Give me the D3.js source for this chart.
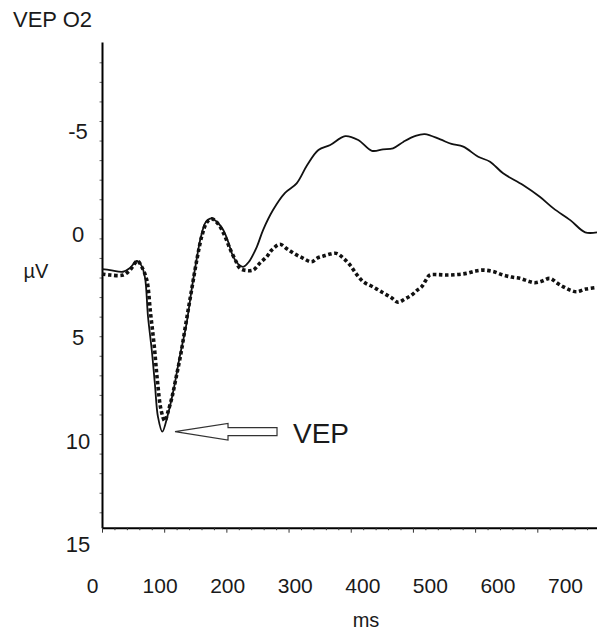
<!DOCTYPE html>
<html>
<head>
<meta charset="utf-8">
<script src="https://cdn.jsdelivr.net/npm/d3@7"></script>
<style>
  body { margin: 0; background: #fff; }
  text { font-family: Arial, "Liberation Sans", sans-serif; fill: #1a1a1a; }
</style>
</head>
<body>
<div id="chart"></div>
<script>
// solid trace (ms, µV; negative is drawn upward)
var solidMs = [0, 13, 34, 45, 56, 63, 69, 74, 80, 85, 90, 97, 105, 115, 125, 136, 144, 152, 159, 167, 176, 185, 195, 203, 211, 219, 227, 236, 249, 259, 275, 294, 313, 330, 348, 367, 391, 412, 434, 452, 468, 485, 503, 519, 544, 562, 581, 605, 624, 645, 677, 704, 726, 753, 777, 796];
var solidUv = [1.74, 1.79, 1.87, 1.69, 1.35, 1.55, 2.13, 4.05, 5.66, 7.28, 8.9, 9.62, 8.9, 7.6, 5.99, 4.37, 2.76, 1.3, 0.19, -0.54, -0.72, -0.54, -0.15, 0.43, 1.14, 1.5, 1.63, 1.4, 0.66, -0.15, -1.12, -1.94, -2.41, -3.3, -4.03, -4.27, -4.7, -4.51, -3.99, -4.06, -4.11, -4.43, -4.7, -4.8, -4.54, -4.32, -4.19, -3.7, -3.46, -2.9, -2.33, -1.76, -1.2, -0.63, -0.04, -0.04];

// dotted trace
var dottedMs = [0, 13, 34, 45, 57, 64, 72, 78, 84, 89, 95, 101, 106, 113, 119, 127, 135, 144, 153, 161, 169, 177, 187, 196, 206, 216, 222, 232, 243, 254, 265, 273, 286, 298, 310, 323, 337, 346, 356, 367, 377, 388, 399, 409, 420, 436, 452, 465, 476, 487, 498, 507, 514, 521, 527, 540, 554, 569, 586, 600, 613, 629, 645, 659, 672, 685, 696, 708, 720, 732, 742, 753, 763, 778, 796];
var dottedUv = [1.98, 2.03, 2.03, 1.79, 1.35, 1.64, 2.27, 3.87, 5.47, 7.12, 8.57, 9.1, 8.67, 7.89, 7.02, 5.81, 4.36, 2.76, 1.21, 0.09, -0.54, -0.69, -0.44, 0.04, 0.77, 1.4, 1.71, 1.81, 1.79, 1.45, 1.14, 0.82, 0.54, 0.77, 1.01, 1.21, 1.39, 1.21, 1.11, 1.01, 0.98, 1.21, 1.55, 1.98, 2.35, 2.61, 2.89, 3.12, 3.35, 3.19, 3.0, 2.76, 2.6, 2.27, 2.03, 2.01, 2.03, 2.01, 1.95, 1.84, 1.79, 1.86, 2.03, 2.13, 2.19, 2.32, 2.4, 2.32, 2.19, 2.42, 2.6, 2.76, 2.84, 2.71, 2.63];

var yLabels = [-5, 0, 5, 10, 15];
var xLabels = [0, 100, 200, 300, 400, 500, 600, 700];
var vepPeak = { ms: 97, uv: 9.62 };

var width = 597, height = 630;

var svg = d3.select("#chart").append("svg")
    .attr("width", width)
    .attr("height", height);

// data scales
var x = d3.scaleLinear().domain([0, 796]).range([102, 597]);
var y = d3.scaleLinear().domain([-9.26, 14.27]).range([42, 527.7]);

// the printed labels sit on their own spacing, slightly wider than the ticks
var xLab = d3.scaleLinear().domain([0, 700]).range([92, 565]);
var yTick = d3.scaleLinear().domain([0, 23]).range([62.3, 512.3]);

// y minor ticks
var gyt = svg.append("g")
    .attr("transform", "translate(102,0)")
    .call(d3.axisLeft(yTick).tickValues(d3.range(0, 24)).tickSize(2.5).tickFormat(""));
gyt.select(".domain").remove();
gyt.selectAll(".tick line").attr("stroke", "#666");

// y axis line + labels (plain hyphen for the minus, as printed)
var gy = svg.append("g")
    .attr("transform", "translate(102,1.5)")
    .call(d3.axisLeft(y).tickValues(yLabels).tickSize(0).tickSizeOuter(0).tickPadding(24)
      .tickFormat(function(d) { return String(d); }));
gy.select(".domain").attr("stroke", "#000").attr("stroke-width", 2).attr("transform", "translate(0,-1.5)");
gy.selectAll(".tick text")
    .attr("text-anchor", "middle")
    .style("font-size", "22px")
    .attr("fill", "#1a1a1a");

// x axis with minor (20 ms) and major (100 ms) ticks
var gx = svg.append("g")
    .attr("transform", "translate(0,527.7)")
    .call(d3.axisBottom(x).tickValues(d3.range(0, 797, 20)).tickSize(2.5).tickSizeOuter(0).tickFormat(""));
gx.select(".domain").attr("stroke", "#000").attr("stroke-width", 2);
gx.selectAll(".tick line")
    .attr("stroke", "#333")
    .attr("y2", function(d) { return d % 100 === 0 ? 5 : 2.5; });

var gxl = svg.append("g")
    .attr("transform", "translate(0,578)")
    .call(d3.axisBottom(xLab).tickValues(xLabels).tickSize(0).tickPadding(0));
gxl.select(".domain").remove();
gxl.selectAll(".tick text").style("font-size", "21px").attr("fill", "#1a1a1a");

// traces
var line = d3.line()
    .x(function(d) { return x(d[0]); })
    .y(function(d) { return y(d[1]); })
    .curve(d3.curveCatmullRom);

svg.append("path")
    .datum(d3.zip(dottedMs, dottedUv))
    .attr("fill", "none")
    .attr("stroke", "#111")
    .attr("stroke-width", 3.6)
    .attr("stroke-dasharray", "3.5,2.6")
    .attr("d", line);

svg.append("path")
    .datum(d3.zip(solidMs, solidUv))
    .attr("fill", "none")
    .attr("stroke", "#111")
    .attr("stroke-width", 1.8)
    .attr("d", line);

// VEP arrow annotation, anchored to the trough
var tx = x(vepPeak.ms) + 12.7, ty = y(vepPeak.uv);
var arrow = [[0, 0], [53, -8.3], [53, -4], [102, -4], [102, 4], [53, 4], [53, 8.3]];
svg.append("path")
    .attr("d", "M" + arrow.map(function(p) { return (tx + p[0]) + "," + (ty + p[1]); }).join("L") + "Z")
    .attr("fill", "#fff")
    .attr("stroke", "#333")
    .attr("stroke-width", 1.2);

svg.append("text")
    .attr("x", tx + 118)
    .attr("y", ty + 11.5)
    .style("font-size", "28px")
    .text("VEP");

// titles
svg.append("text").attr("x", 13).attr("y", 27).style("font-size", "22px").text("VEP O2");
svg.append("text").attr("x", 36).attr("y", 278).attr("text-anchor", "middle").style("font-size", "20px").text("µV");
svg.append("text").attr("x", 366).attr("y", 627).attr("text-anchor", "middle").style("font-size", "20px").text("ms");
</script>
</body>
</html>
